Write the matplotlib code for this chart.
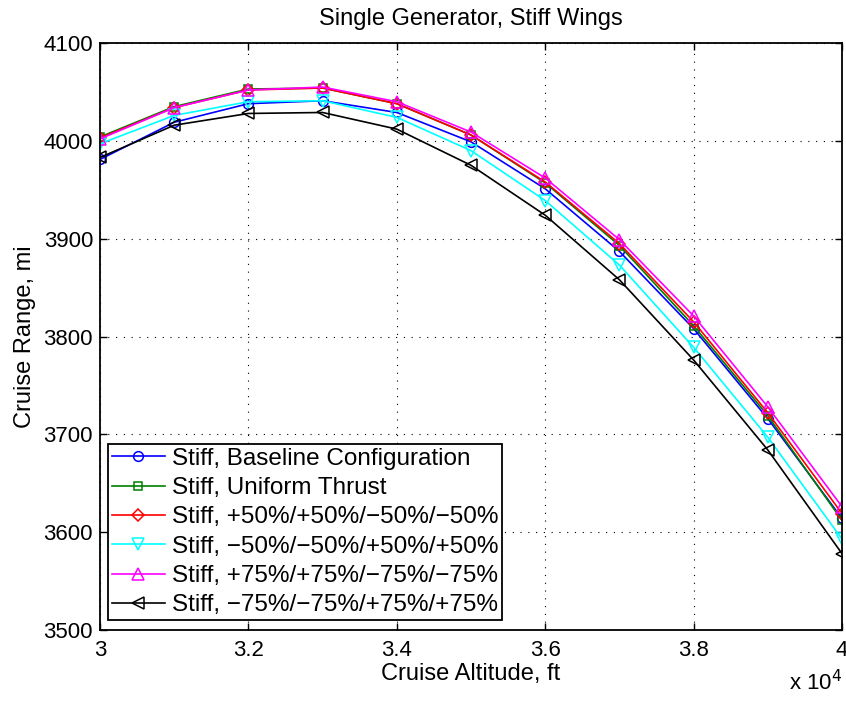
import numpy as np
import matplotlib
matplotlib.use("Agg")
import matplotlib.pyplot as plt
from matplotlib.ticker import FuncFormatter, MultipleLocator

plt.rcParams["font.family"] = ["Liberation Sans", "DejaVu Sans"]

# cruise altitude, ft
altitude = [30000, 31000, 32000, 33000, 34000, 35000, 36000, 37000, 38000, 39000, 40000]

# cruise range, mi
baseline = [3981, 4019, 4038, 4041, 4029, 3999, 3951, 3887, 3808, 3716, 3614]
uniform = [4004, 4035, 4053, 4054, 4038, 4006, 3957, 3893, 3811, 3719, 3612]
p50 = [4003, 4034, 4052, 4054, 4038, 4006, 3958, 3895, 3815, 3722, 3619]
m50 = [3997, 4026, 4040, 4041, 4024, 3990, 3939, 3873, 3789, 3697, 3593]
p75 = [4002, 4034, 4052, 4055, 4040, 4009, 3962, 3899, 3821, 3728, 3626]
m75 = [3983, 4016, 4028, 4029, 4012, 3975, 3924, 3858, 3776, 3684, 3578]

labels = [
    "Stiff, Baseline Configuration",
    "Stiff, Uniform Thrust",
    "Stiff, +50%/+50%/\u221250%/\u221250%",
    "Stiff, \u221250%/\u221250%/+50%/+50%",
    "Stiff, +75%/+75%/\u221275%/\u221275%",
    "Stiff, \u221275%/\u221275%/+75%/+75%",
]
series = [baseline, uniform, p50, m50, p75, m75]
colors = ["#0000ff", "#008000", "#ff0000", "#00ffff", "#ff00ff", "#000000"]
markers = ["o", "s", "D", "v", "^", "<"]
msizes = [7, 6, 6, 8, 8, 8]

fig = plt.figure(figsize=(8.46, 7.02), dpi=100)
ax = fig.add_axes([0.1182, 0.1026, 0.9953 - 0.1182, 0.9387 - 0.1026])

for y, c, m, ms, lab in zip(series, colors, markers, msizes, labels):
    ax.plot(altitude, y, color=c, marker=m, markersize=ms, markerfacecolor="none",
            markeredgecolor=c, markeredgewidth=1.1, linewidth=1.2, label=lab)

ax.set_xlim(30000, 40000)
ax.set_ylim(3500, 4100)
ax.xaxis.set_major_locator(MultipleLocator(2000))
ax.yaxis.set_major_locator(MultipleLocator(100))
ax.xaxis.set_major_formatter(FuncFormatter(lambda v, p: "%g" % (v / 1e4)))
ax.tick_params(direction="in", length=5, width=1, labelsize=16, top=True, right=True)
ax.tick_params(axis="x", pad=7)
ax.tick_params(axis="y", pad=5)
ax.grid(True, linestyle=(0, (1, 6)), color="black", linewidth=0.8)
for s in ax.spines.values():
    s.set_linewidth(1.3)

ax.set_title("Single Generator, Stiff Wings", fontsize=17, pad=13)
ax.set_xlabel("Cruise Altitude, ft", fontsize=17, labelpad=2)
ax.set_ylabel("Cruise Range, mi", fontsize=17, labelpad=5)
ax.text(1.0, -0.102, "x 10$^{4}$", transform=ax.transAxes, fontsize=16,
        ha="right", va="baseline")

leg = ax.legend(loc="lower left", bbox_to_anchor=(0.0108, 0.017), borderaxespad=0,
                fontsize=17.5, fancybox=False, framealpha=1, edgecolor="black",
                handlelength=2.2, handletextpad=0.28, labelspacing=0.3, borderpad=0.15)
leg.get_frame().set_linewidth(1.3)

fig.savefig("out.png", dpi=100)
